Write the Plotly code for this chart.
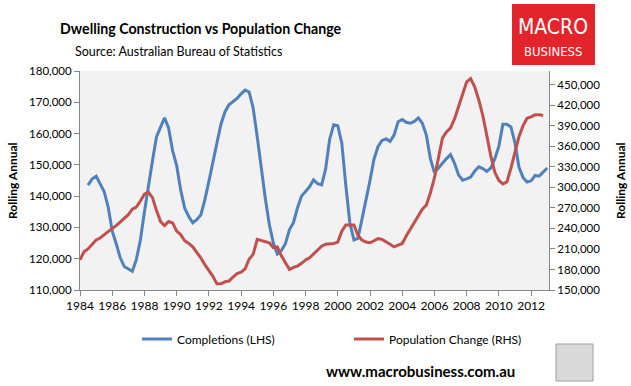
import pandas as pd
import plotly.graph_objects as go

# ---------------- data (thousands) ----------------
completions_k = [
    143.5, 145.5,
    146.4, 144.2, 141.5, 136.5,
    128.8, 124.8, 120.3, 117.5,
    116.8, 116.0, 119.7, 126.0,
    135.0, 143.8, 151.3, 159.0,
    161.8, 165.0, 161.8, 154.5,
    149.8, 142.0, 136.2, 133.5,
    131.5, 132.5, 134.0, 138.8,
    144.7, 150.4, 157.0, 163.0,
    167.0, 169.2, 170.3, 171.2,
    172.7, 173.9, 173.3, 168.2,
    159.0, 149.0, 139.5, 131.0,
    125.0, 121.5, 122.6, 124.8,
    129.3, 131.5, 136.2, 140.0,
    141.5, 143.0, 145.2, 144.0,
    143.6, 148.7, 158.2, 162.8,
    162.5, 157.0, 143.5, 131.5,
    126.0, 126.5, 132.5, 138.5,
    145.0, 151.8, 155.8, 157.8,
    158.3, 157.5, 159.5, 163.8,
    164.5, 163.6, 163.3, 163.9,
    165.0, 163.3, 159.5, 152.0,
    147.5, 149.0, 150.6, 152.0,
    153.3, 150.5, 146.8, 145.1,
    145.5, 146.1, 148.0, 149.4,
    148.8, 147.9, 149.0, 152.0,
    156.0, 163.0, 163.0, 162.1,
    157.0, 149.3, 146.0, 144.5,
    144.9, 146.6, 146.4, 147.8,
    149.0,
]
completions_start = "1984-07-01"

population_k = [
    194, 206, 210, 216,
    223, 226, 231, 236,
    240, 244, 249, 254,
    260, 268, 271, 280,
    290, 293, 285, 266,
    250, 244, 250, 248,
    236, 231, 222, 218,
    213, 205, 197, 187,
    179, 170, 159, 159,
    162, 163, 169, 174,
    176, 181, 195, 202,
    224, 222, 220, 219,
    212, 213, 200, 189,
    180, 183, 185, 189,
    194, 197, 203, 209,
    214, 217, 217, 218,
    220, 236, 245, 245,
    245, 230, 223, 220,
    219, 222, 225, 224,
    221, 217, 213, 216,
    218, 229, 239, 249,
    258, 268, 274, 292,
    314, 341, 372, 381,
    387, 400, 418, 436,
    454, 459, 447, 428,
    405, 376, 346, 322,
    310, 305, 308, 328,
    352, 374, 390, 401,
    403, 406, 406, 405,
]
population_start = "1984-01-01"

x_tick_years = list(range(1984, 2013, 2))
left_ticks = list(range(110000, 180001, 10000))
right_ticks = list(range(150000, 450001, 30000))

series_names = ["Completions (LHS)", "Population Change (RHS)"]
title_text = "Dwelling Construction vs Population Change"
source_text = "Source: Australian Bureau of Statistics"
axis_title = "Rolling Annual"
url_text = "www.macrobusiness.com.au"

# ---------------- build ----------------
x_comp = pd.date_range(completions_start, periods=len(completions_k), freq="QS-JAN")
x_pop = pd.date_range(population_start, periods=len(population_k), freq="QS-JAN")

BLUE = "#4f81bd"
RED = "#c0504d"
AX = "#868686"
FONT = "Lato, 'Open Sans', sans-serif"
NARROW = "'Liberation Sans Narrow', 'DejaVu Sans Condensed', sans-serif"

fig = go.Figure()
fig.add_trace(go.Scatter(x=x_comp, y=[v * 1000 for v in completions_k], mode="lines",
                         name=series_names[0], line=dict(color=BLUE, width=3)))
fig.add_trace(go.Scatter(x=x_pop, y=[v * 1000 for v in population_k], mode="lines",
                         name=series_names[1], line=dict(color=RED, width=3), yaxis="y2"))

L, R, T, B = 80, 82, 71, 96
W, H = 631, 386
pw, ph = W - L - R, H - T - B


def px(xp):
    return (xp - L) / pw


def py(yp):
    return (H - B - yp) / ph


fig.update_layout(
    width=W, height=H,
    margin=dict(l=L, r=R, t=T, b=B, autoexpand=False),
    paper_bgcolor="white",
    plot_bgcolor="#f2f2f2",
    font=dict(family=FONT, size=12, color="#000000"),
    showlegend=True,
    legend=dict(orientation="h", x=px(137), y=py(339), xanchor="left", yanchor="middle",
                entrywidth=167, entrywidthmode="pixels", font=dict(size=12, color="#000"),
                bgcolor="rgba(0,0,0,0)"),
    xaxis=dict(type="date", range=["1984-01-01", "2013-02-10"],
               tickvals=[f"{y}-01-01" for y in x_tick_years],
               ticktext=[str(y) for y in x_tick_years],
               showgrid=False, zeroline=False, showline=True, linecolor=AX, linewidth=1,
               ticks="outside", ticklen=5, tickcolor=AX, tickfont=dict(size=12)),
    yaxis=dict(range=[110000, 180000], tickvals=left_ticks, tickformat=",d",
               showgrid=False, zeroline=False, showline=True, linecolor=AX, linewidth=1,
               ticks="outside", ticklen=5, tickcolor=AX, tickfont=dict(size=11.5)),
    yaxis2=dict(range=[150000, 470000], tickvals=right_ticks, tickformat=",d",
                overlaying="y", side="right",
                showgrid=False, zeroline=False, showline=True, linecolor=AX, linewidth=1,
                ticks="outside", ticklen=5, tickcolor=AX, tickfont=dict(size=11.5)),
)

ann = [
    dict(text=f"<b>{title_text}</b>", x=px(58), y=py(29), xanchor="left", yanchor="middle",
         font=dict(size=14.2, color="#000")),
    dict(text=source_text, x=px(73), y=py(52), xanchor="left", yanchor="middle",
         font=dict(size=12.5, color="#000")),
    dict(text=f"<b>{axis_title}</b>", x=px(12), y=py(181), xanchor="center", yanchor="middle",
         textangle=-90, font=dict(size=12, color="#000")),
    dict(text=f"<b>{axis_title}</b>", x=px(620), y=py(181), xanchor="center", yanchor="middle",
         textangle=-90, font=dict(size=12, color="#000")),
    dict(text=f"<b>{url_text}</b>", x=px(420), y=py(371), xanchor="center", yanchor="middle",
         font=dict(size=15, color="#000")),
    dict(text="MACRO", x=px(553), y=py(27), xanchor="center", yanchor="middle",
         font=dict(size=21, color="white", family=NARROW)),
    dict(text="BUSINESS", x=px(553), y=py(51), xanchor="center", yanchor="middle",
         font=dict(size=13, color="white", family=NARROW)),
]
for a in ann:
    a.update(xref="paper", yref="paper", showarrow=False)
fig.update_layout(annotations=ann)

shapes = [
    dict(type="rect", x0=px(512), x1=px(595), y0=py(4), y1=py(65),
         fillcolor="#e3242b", line=dict(width=0), layer="below"),
    dict(type="rect", x0=px(556), x1=px(593), y0=py(344), y1=py(381),
         fillcolor="#d9d9d9", line=dict(color="#a0a0a0", width=1)),
]
for s in shapes:
    s.update(xref="paper", yref="paper")
fig.update_layout(shapes=shapes)

fig.write_html("out.html", config={"displayModeBar": False},
               post_script="document.body.style.margin='0';")
